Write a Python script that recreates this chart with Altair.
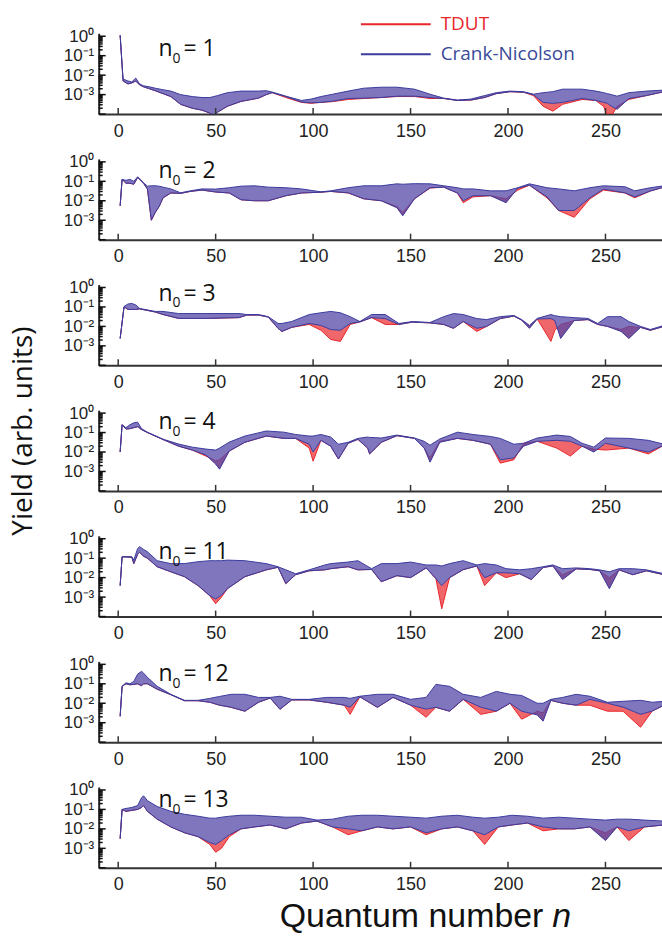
import altair as alt
import pandas as pd

RED = "#e8262b"
BLUE = "#3b3b9e"
BAND = "#5548a8"

X_TICKS = [0, 50, 100, 150, 200, 250]
Y_LABEL_VALUES = [1, 0.1, 0.01, 0.001]
Y_MAJOR = [1, 0.1, 0.01, 0.001, 0.0001]
Y_MINOR = [m * 10.0 ** e for e in range(-4, 1) for m in range(2, 10) if m * 10.0 ** e < 1.4]
N0_LABELS = ["1", "2", "3", "4", "11", "12", "13"]

# ---- data: log10(yield) envelopes ----
P1_N = [1, 2.5, 5, 7, 9, 11, 13, 16, 19, 23, 27, 32, 38, 43, 47, 49, 51, 56, 63, 72, 76, 79, 86, 94, 99, 104, 110, 118, 126, 135, 143, 152, 160, 167, 174, 181, 188, 194, 201, 208, 213, 218, 223, 228, 238, 245, 249, 251, 253, 256, 262, 271, 280]
P1_HI = [0.05, -2.2, -2.3, -2.35, -2.15, -2.45, -2.55, -2.6, -2.67, -2.75, -2.82, -3.0, -3.1, -3.15, -3.15, -3.1, -3.05, -2.9, -2.82, -2.82, -2.8, -2.87, -3.08, -3.3, -3.23, -3.1, -2.98, -2.82, -2.67, -2.62, -2.62, -2.72, -2.98, -3.18, -3.28, -3.23, -3.05, -2.9, -2.82, -2.85, -2.98, -2.9, -2.85, -2.72, -2.72, -2.82, -2.9, -2.95, -3.0, -3.08, -2.9, -2.82, -2.77]
P1_BLO = [0.05, -2.3, -2.45, -2.4, -2.3, -2.5, -2.6, -2.7, -2.8, -2.95, -3.1, -3.5, -3.7, -3.8, -3.95, -4.1, -3.9, -3.6, -3.35, -3.18, -3.0, -2.9, -3.1, -3.38, -3.42, -3.4, -3.34, -3.2, -3.18, -3.15, -3.08, -3.08, -3.15, -3.2, -3.3, -3.28, -3.15, -2.95, -2.85, -2.88, -3.0, -3.4, -3.45, -3.4, -3.2, -3.3, -3.4, -3.45, -3.6, -3.75, -3.2, -3.05, -2.85]
P1_RLO = [0.05, -2.3, -2.45, -2.4, -2.3, -2.5, -2.6, -2.7, -2.8, -2.95, -3.1, -3.5, -3.7, -3.8, -3.95, -4.1, -3.9, -3.6, -3.35, -3.18, -3.0, -2.9, -3.15, -3.4, -3.45, -3.4, -3.36, -3.25, -3.2, -3.15, -3.1, -3.1, -3.2, -3.2, -3.3, -3.28, -3.15, -2.95, -2.85, -2.88, -3.05, -3.6, -3.85, -3.5, -3.25, -3.3, -3.6, -4.1, -4.1, -3.6, -3.25, -3.05, -2.85]

P2_N = [1, 2, 4, 6, 8, 10, 13, 15, 17, 19, 21, 23, 27, 32, 37, 43, 50, 57, 63, 70, 77, 86, 94, 104, 109, 118, 126, 135, 143, 146, 152, 160, 167, 174, 177, 182, 191, 199, 205, 211, 220, 226, 234, 242, 249, 260, 265, 273, 280]
P2_HI = [-2.26, -0.9, -0.95, -0.9, -1.0, -0.77, -1.08, -1.25, -1.23, -1.23, -1.25, -1.3, -1.39, -1.59, -1.49, -1.39, -1.4, -1.33, -1.25, -1.23, -1.3, -1.33, -1.39, -1.54, -1.49, -1.33, -1.23, -1.23, -1.13, -1.15, -1.12, -1.13, -1.23, -1.33, -1.39, -1.39, -1.49, -1.49, -1.33, -1.13, -1.33, -1.39, -1.49, -1.33, -1.23, -1.28, -1.49, -1.33, -1.23]
P2_BLO = [-2.26, -0.9, -1.1, -1.1, -1.15, -0.8, -1.1, -1.4, -3.0, -2.6, -2.3, -1.85, -1.6, -1.62, -1.52, -1.45, -1.55, -1.6, -1.95, -2.0, -2.0, -1.74, -1.6, -1.56, -1.52, -1.59, -1.9, -2.0, -2.36, -2.77, -1.9, -1.33, -1.3, -1.6, -2.0, -1.74, -1.74, -2.1, -1.35, -1.2, -1.8, -2.5, -2.5, -1.85, -1.4, -1.59, -1.8, -1.5, -1.3]
P2_RLO = [-2.26, -0.9, -1.1, -1.1, -1.15, -0.8, -1.1, -1.4, -3.0, -2.6, -2.3, -1.85, -1.6, -1.62, -1.52, -1.45, -1.55, -1.6, -1.95, -2.0, -2.0, -1.74, -1.6, -1.56, -1.52, -1.6, -1.9, -2.0, -2.3, -2.6, -1.9, -1.35, -1.3, -1.6, -2.1, -1.8, -1.74, -1.9, -1.45, -1.2, -1.85, -2.5, -2.85, -1.9, -1.45, -1.6, -1.85, -1.5, -1.3]

P3_N = [1, 3, 5, 7, 9, 11, 19, 23, 31, 45, 62, 66, 72, 77, 82, 84, 89, 98, 104, 109, 114, 119, 124, 130, 137, 144, 151, 160, 167, 172, 177, 184, 189, 196, 203, 207, 211, 215, 222, 224, 227, 234, 241, 246, 251, 258, 262, 268, 273, 280]
P3_HI = [-2.62, -0.98, -0.85, -0.82, -0.9, -1.08, -1.23, -1.23, -1.34, -1.34, -1.34, -1.39, -1.39, -1.5, -1.85, -1.85, -1.75, -1.39, -1.3, -1.23, -1.3, -1.5, -1.75, -1.39, -1.39, -1.85, -1.75, -1.8, -1.5, -1.34, -1.39, -1.6, -1.65, -1.5, -1.44, -1.65, -1.95, -1.59, -1.39, -1.45, -1.5, -1.55, -1.59, -1.85, -1.5, -1.5, -1.75, -2.0, -2.16, -1.95]
P3_BLO = [-2.62, -1.0, -1.13, -1.13, -1.13, -1.1, -1.26, -1.39, -1.59, -1.59, -1.55, -1.42, -1.42, -1.52, -2.1, -2.26, -2.05, -1.85, -1.95, -2.16, -2.2, -1.85, -1.77, -1.55, -1.6, -1.9, -1.78, -1.82, -1.9, -2.1, -1.75, -2.1, -2.0, -1.6, -1.47, -1.68, -2.1, -1.62, -1.6, -1.7, -2.62, -1.7, -1.65, -1.9, -2.0, -2.26, -2.62, -2.05, -2.2, -2.0]
P3_RLO = [-2.62, -1.0, -1.13, -1.13, -1.13, -1.1, -1.26, -1.39, -1.59, -1.59, -1.55, -1.42, -1.42, -1.52, -2.1, -2.26, -2.05, -1.9, -2.2, -2.67, -2.77, -1.9, -1.77, -1.55, -1.9, -1.9, -1.78, -1.82, -1.9, -2.1, -1.75, -2.26, -2.0, -1.6, -1.47, -1.68, -2.0, -1.62, -2.77, -2.2, -1.9, -1.7, -1.65, -1.9, -2.0, -2.16, -2.0, -2.05, -2.2, -2.0]

P4_N = [1, 2, 4, 6, 8, 10, 12, 15, 23, 31, 38, 45, 50, 52, 57, 65, 76, 85, 91, 98, 100, 104, 109, 113, 118, 123, 128, 129, 135, 143, 152, 157, 160, 165, 174, 182, 191, 196, 203, 208, 215, 225, 232, 238, 244, 250, 262, 272, 280]
P4_HI = [-2.0, -0.6, -0.75, -0.6, -0.5, -0.47, -0.8, -0.98, -1.34, -1.59, -1.75, -1.85, -1.9, -1.8, -1.49, -1.18, -0.92, -0.98, -1.1, -1.18, -1.18, -1.1, -1.23, -1.6, -1.5, -1.3, -1.23, -1.25, -1.28, -1.13, -1.28, -1.45, -1.65, -1.33, -0.98, -1.1, -1.2, -1.3, -1.6, -1.55, -1.28, -1.13, -1.2, -1.55, -1.75, -1.28, -1.3, -1.4, -1.6]
P4_BLO = [-2.0, -0.6, -0.82, -0.8, -0.75, -0.7, -0.85, -1.0, -1.36, -1.7, -1.9, -2.15, -2.62, -2.88, -1.95, -1.5, -1.18, -1.3, -1.3, -1.6, -2.0, -1.4, -1.7, -2.36, -1.55, -1.35, -1.8, -2.1, -1.5, -1.16, -1.3, -1.8, -2.52, -1.5, -1.3, -1.4, -1.6, -2.4, -2.3, -1.7, -1.45, -1.4, -1.45, -1.7, -2.0, -1.55, -1.8, -2.0, -1.65]
P4_RLO = [-2.0, -0.6, -0.82, -0.8, -0.75, -0.7, -0.85, -1.0, -1.36, -1.7, -1.9, -2.21, -2.45, -2.4, -1.95, -1.5, -1.18, -1.3, -1.3, -1.8, -2.47, -1.4, -1.7, -2.36, -1.55, -1.35, -1.8, -2.1, -1.5, -1.16, -1.3, -1.8, -2.3, -1.45, -1.3, -1.4, -1.6, -2.57, -2.4, -1.55, -1.45, -1.8, -2.21, -1.7, -1.85, -1.9, -1.8, -2.1, -1.65]

P5_N = [1, 2, 7, 8, 10, 11, 13, 15, 20, 27, 34, 41, 47, 50, 53, 56, 65, 76, 82, 86, 91, 98, 106, 109, 118, 123, 130, 135, 143, 150, 158, 163, 166, 170, 177, 184, 188, 194, 199, 206, 212, 218, 223, 228, 235, 242, 247, 252, 257, 264, 271, 280]
P5_HI = [-2.41, -0.93, -0.93, -1.1, -0.5, -0.41, -0.55, -0.67, -1.13, -1.28, -1.28, -1.18, -1.13, -1.13, -1.13, -1.1, -1.13, -1.28, -1.44, -1.6, -1.8, -1.6, -1.35, -1.28, -1.2, -1.13, -1.54, -1.28, -1.28, -1.2, -1.35, -1.35, -1.4, -1.28, -1.13, -1.35, -1.28, -1.35, -1.54, -1.6, -1.54, -1.44, -1.35, -1.54, -1.5, -1.54, -1.6, -1.7, -1.54, -1.54, -1.6, -1.8]
P5_BLO = [-2.41, -0.93, -0.95, -1.28, -0.8, -0.7, -0.9, -1.0, -1.44, -1.7, -1.95, -2.41, -2.93, -3.1, -2.9, -2.57, -1.95, -1.6, -1.47, -2.31, -1.85, -1.65, -1.6, -1.54, -1.44, -1.6, -1.58, -2.21, -1.9, -2.0, -1.5, -2.05, -2.41, -2.0, -1.59, -1.4, -2.0, -1.75, -1.75, -1.8, -2.1, -1.48, -1.4, -2.1, -1.55, -1.58, -1.65, -2.57, -1.6, -1.85, -1.65, -1.85]
P5_RLO = [-2.41, -0.93, -0.95, -1.28, -0.8, -0.7, -0.9, -1.0, -1.44, -1.7, -1.95, -2.41, -2.93, -3.34, -3.0, -2.57, -1.95, -1.6, -1.47, -2.31, -1.85, -1.65, -1.6, -1.54, -1.44, -1.6, -1.58, -2.21, -1.9, -2.0, -1.5, -2.05, -3.6, -2.0, -1.59, -1.4, -2.41, -1.75, -2.0, -1.8, -2.1, -1.48, -1.4, -1.85, -1.55, -1.58, -1.65, -2.0, -1.6, -1.85, -1.65, -1.85]

P6_N = [1, 2, 4, 6, 8, 10, 12, 13, 15, 20, 27, 34, 41, 47, 52, 58, 65, 72, 78, 83, 89, 98, 107, 116, 119, 124, 133, 141, 150, 158, 163, 170, 177, 186, 194, 201, 207, 215, 218, 222, 228, 235, 242, 251, 259, 268, 274, 280]
P6_HI = [-2.67, -1.13, -0.95, -1.0, -0.88, -0.5, -0.36, -0.45, -0.67, -1.13, -1.54, -1.85, -1.85, -1.75, -1.65, -1.54, -1.54, -1.7, -1.7, -1.64, -1.8, -1.8, -1.7, -1.7, -1.75, -1.64, -1.54, -1.54, -1.8, -1.7, -1.03, -1.13, -1.54, -1.7, -1.39, -1.54, -1.6, -2.0, -2.0, -1.8, -1.7, -1.54, -1.64, -1.95, -1.9, -1.85, -1.95, -1.9]
P6_BLO = [-2.67, -1.13, -1.0, -1.05, -1.03, -1.0, -1.1, -1.0, -1.0, -1.28, -1.56, -1.87, -1.87, -1.95, -2.1, -2.21, -2.41, -1.95, -1.73, -2.31, -1.83, -1.83, -1.95, -2.1, -2.2, -1.67, -2.21, -1.7, -2.1, -2.3, -2.21, -2.41, -1.8, -2.2, -2.41, -2.0, -2.41, -2.6, -2.92, -1.85, -2.0, -2.1, -1.8, -2.0, -2.2, -2.57, -2.4, -2.1]
P6_RLO = [-2.67, -1.13, -1.0, -1.05, -1.03, -1.0, -1.1, -1.0, -1.0, -1.28, -1.56, -1.87, -1.87, -1.95, -2.1, -2.21, -2.41, -1.95, -1.73, -2.31, -1.83, -1.83, -1.95, -2.1, -2.57, -1.67, -2.21, -1.7, -2.1, -2.72, -2.21, -2.41, -1.8, -2.57, -2.41, -2.0, -2.82, -2.41, -2.5, -1.85, -2.0, -2.1, -2.1, -2.41, -2.41, -3.23, -2.4, -2.1]

P7_N = [1, 2, 4, 7, 10, 12, 13, 15, 20, 27, 34, 41, 47, 50, 53, 57, 63, 70, 78, 86, 94, 102, 110, 118, 125, 133, 141, 150, 158, 166, 174, 182, 188, 195, 202, 210, 218, 226, 234, 242, 250, 256, 262, 270, 280]
P7_HI = [-2.5, -1.0, -0.95, -0.9, -0.8, -0.4, -0.3, -0.55, -0.85, -1.1, -1.25, -1.35, -1.45, -1.45, -1.4, -1.35, -1.3, -1.3, -1.35, -1.4, -1.4, -1.55, -1.5, -1.35, -1.3, -1.3, -1.35, -1.4, -1.45, -1.35, -1.3, -1.4, -1.45, -1.4, -1.3, -1.35, -1.45, -1.4, -1.45, -1.5, -1.55, -1.5, -1.5, -1.55, -1.6]
P7_BLO = [-2.5, -1.0, -1.1, -1.05, -1.0, -0.9, -0.8, -1.1, -1.5, -1.9, -2.2, -2.4, -2.7, -2.8, -2.6, -2.3, -2.0, -1.9, -1.8, -2.0, -1.7, -1.6, -1.9, -2.0, -2.1, -1.9, -2.0, -1.9, -2.2, -2.0, -1.9, -2.1, -2.3, -1.9, -1.8, -1.7, -1.9, -2.0, -2.0, -1.9, -2.6, -1.9, -2.1, -1.9, -1.8]
P7_RLO = [-2.5, -1.0, -1.1, -1.05, -1.0, -0.9, -0.8, -1.1, -1.5, -1.9, -2.2, -2.4, -2.8, -3.2, -3.0, -2.4, -2.0, -1.9, -1.8, -2.0, -1.7, -1.6, -1.9, -2.3, -2.1, -1.9, -2.0, -1.9, -2.3, -2.0, -1.9, -2.1, -2.8, -1.9, -1.8, -1.7, -2.1, -2.0, -2.0, -1.9, -2.2, -1.9, -2.6, -1.9, -1.8]

PANELS = [
    (P1_N, P1_HI, P1_BLO, P1_RLO),
    (P2_N, P2_HI, P2_BLO, P2_RLO),
    (P3_N, P3_HI, P3_BLO, P3_RLO),
    (P4_N, P4_HI, P4_BLO, P4_RLO),
    (P5_N, P5_HI, P5_BLO, P5_RLO),
    (P6_N, P6_HI, P6_BLO, P6_RLO),
    (P7_N, P7_HI, P7_BLO, P7_RLO),
]
LABEL_BASE = [23, 19, 16, 19, 23, 20, 20]

W, H = 565, 81
TXT_FONT = "Open Sans"
AX_FONT = "Liberation Sans"

xscale = alt.Scale(domain=[-10, 279], nice=False, zero=False)
yscale = alt.Scale(type="log", domain=[1e-4, 10 ** 0.15], nice=False)
xaxis = alt.Axis(values=X_TICKS, ticks=False, labelFontSize=18, labelFont=AX_FONT,
                 labelColor="#222", labelPadding=8, domainColor="#333", domainWidth=2,
                 grid=False, title=None, labelFlush=False)
yaxis = alt.Axis(values=Y_LABEL_VALUES, ticks=False, labelFontSize=17, labelFont=AX_FONT,
                 labelColor="#222", labelPadding=5, domainColor="#222", domainWidth=2,
                 grid=False, title=None, labelFlush=False, labelOverlap=False,
                 labelBaseline="middle",
                 labelExpr="datum.value > 0.5 ? '10⁰' : datum.value > 0.05 ? '10⁻¹' : datum.value > 0.005 ? '10⁻²' : '10⁻³'")

ONE = pd.DataFrame({"k": [0]})


def txt(text, x, y, size=23, color="#111", font=TXT_FONT, **kw):
    return alt.Chart(ONE).mark_text(text=text, font=font, fontSize=size, color=color,
                                    align=kw.pop("align", "left"),
                                    baseline=kw.pop("baseline", "alphabetic"), **kw).encode(
        x=alt.value(x), y=alt.value(y))


def panel(i):
    n, hi, blo, rlo = PANELS[i]
    df = pd.DataFrame({"n": n, "hi": [10 ** v for v in hi],
                       "blo": [10 ** v for v in blo], "rlo": [10 ** v for v in rlo]})
    X = alt.X("n:Q", scale=xscale, axis=xaxis)
    base = alt.Chart(df)
    red_area = base.mark_area(color=RED, opacity=0.7, clip=True).encode(
        x=X, y=alt.Y("rlo:Q", scale=yscale, axis=yaxis), y2="blo:Q")
    red_line = base.mark_line(color=RED, strokeWidth=1, clip=True).encode(
        x=X, y=alt.Y("rlo:Q", scale=yscale, axis=yaxis))
    band = base.mark_area(color=BAND, opacity=0.75, clip=True).encode(
        x=X, y=alt.Y("blo:Q", scale=yscale, axis=yaxis), y2="hi:Q")
    blue_hi = base.mark_line(color=BLUE, strokeWidth=1, clip=True).encode(
        x=X, y=alt.Y("hi:Q", scale=yscale, axis=yaxis))
    blue_lo = base.mark_line(color=BLUE, strokeWidth=1, clip=True).encode(
        x=X, y=alt.Y("blo:Q", scale=yscale, axis=yaxis))

    xt = alt.Chart(pd.DataFrame({"t": X_TICKS})).mark_rule(color="#333", strokeWidth=1.5).encode(
        x=alt.X("t:Q", scale=xscale, axis=xaxis), y=alt.value(H), y2=alt.value(H - 6))
    ymaj = alt.Chart(pd.DataFrame({"v": Y_MAJOR})).mark_rule(color="#111", strokeWidth=1.5).encode(
        y=alt.Y("v:Q", scale=yscale, axis=yaxis), x=alt.value(0), x2=alt.value(7))
    ymin = alt.Chart(pd.DataFrame({"v": Y_MINOR})).mark_rule(color="#111", strokeWidth=1.5).encode(
        y=alt.Y("v:Q", scale=yscale, axis=yaxis), x=alt.value(0), x2=alt.value(4))

    b = LABEL_BASE[i]
    layers = [red_area, red_line, band, blue_hi, blue_lo, xt, ymaj, ymin,
              txt("n", 60, b), txt("0", 74, b + 7, size=14), txt("= " + N0_LABELS[i], 85, b)]

    if i == 0:
        layers += [
            alt.Chart(ONE).mark_rule(color=RED, strokeWidth=2).encode(
                x=alt.value(263), x2=alt.value(333), y=alt.value(-9)),
            alt.Chart(ONE).mark_rule(color=BLUE, strokeWidth=2).encode(
                x=alt.value(263), x2=alt.value(333), y=alt.value(21)),
            txt("TDUT", 343, -9, size=19, color=RED, baseline="middle"),
            txt("Crank-Nicolson", 343, 21, size=19, color="#3a4a9a", baseline="middle"),
        ]
    if i == 3:
        layers.append(txt("Yield (arb. units)", -74.7, 21, size=28, align="center",
                          baseline="middle", angle=270))
    if i == 6:
        layers += [
            txt("Quantum number", 446, H + 59.5, size=34, align="right", font=AX_FONT),
            txt("n", 455, H + 59.5, size=34, fontStyle="italic", font=AX_FONT),
        ]
    return alt.layer(*layers).properties(width=W, height=H)


chart = alt.vconcat(*[panel(i) for i in range(7)], spacing=45, bounds="flush").properties(
    padding={"left": 10, "top": 14, "right": 0, "bottom": 0},
    background="white",
).configure_view(stroke=None)

chart.save("out.html", embed_options={"renderer": "svg", "actions": False})
